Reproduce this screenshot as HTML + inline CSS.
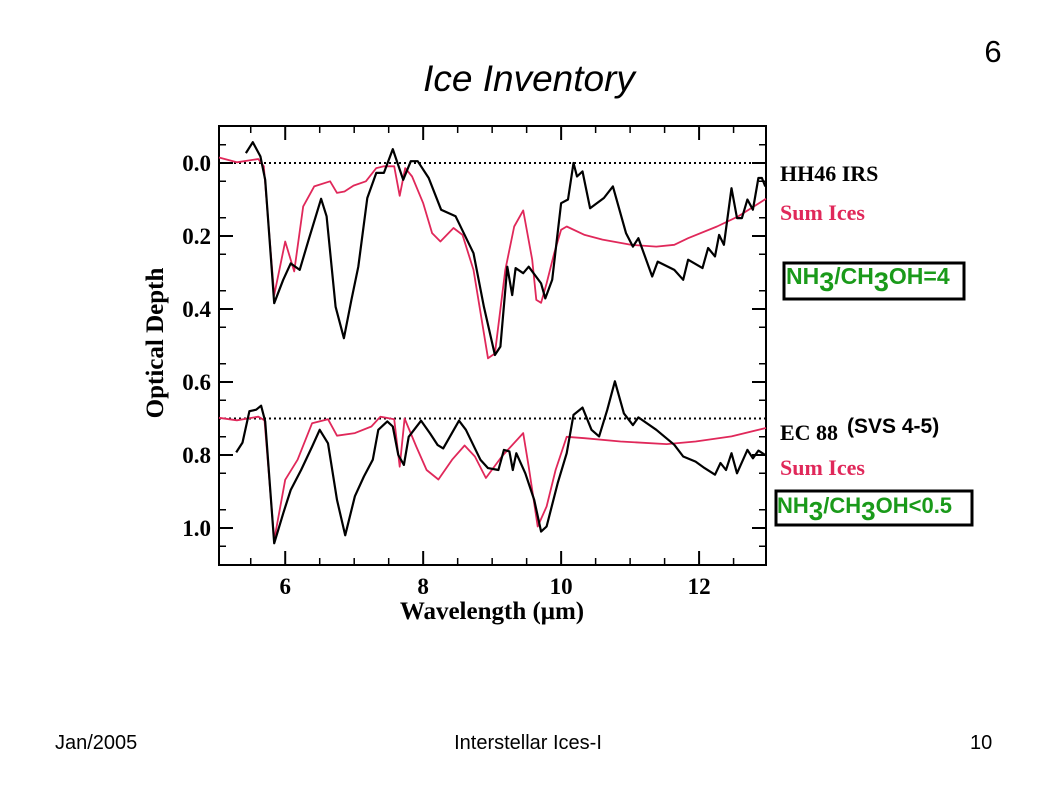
<!DOCTYPE html>
<html><head><meta charset="utf-8"><style>
body{margin:0;background:#fff;}
svg{display:block;}
</style></head><body>
<svg width="1057" height="794" viewBox="0 0 1057 794" xmlns="http://www.w3.org/2000/svg" id="chart">
<text x="529" y="91" font-family="Liberation Sans, sans-serif" font-size="37" font-style="italic" text-anchor="middle">Ice Inventory</text>
<text x="993" y="62" font-family="Liberation Sans, sans-serif" font-size="31" text-anchor="middle">6</text>
<rect x="219" y="126" width="547" height="439" fill="none" stroke="#000" stroke-width="2"/>
<g id="ticks"></g>
<g id="grid"></g>
<g id="series"></g>
<text transform="translate(163,343) rotate(-90)" font-family="Liberation Serif, serif" font-weight="bold" font-size="25" text-anchor="middle">Optical Depth</text>
<text x="492" y="619" font-family="Liberation Serif, serif" font-weight="bold" font-size="25" text-anchor="middle">Wavelength (μm)</text>
<g font-family="Liberation Serif, serif" font-weight="bold" font-size="22">
<text x="780" y="181">HH46 IRS</text>
<text x="780" y="220" fill="#e0285a">Sum Ices</text>
<text x="780" y="440">EC 88</text>
<text x="780" y="475" fill="#e0285a">Sum Ices</text>
</g>
<text x="847" y="433" font-family="Liberation Sans, sans-serif" font-weight="bold" font-size="21">(SVS 4-5)</text>
<rect x="784" y="263" width="180" height="36" fill="#fff" stroke="#000" stroke-width="3"/>
<text x="786" y="284" font-family="Liberation Sans, sans-serif" font-weight="bold" font-size="23" fill="#1a9a1a">NH<tspan dy="7" font-size="27">3</tspan><tspan dy="-7">/CH</tspan><tspan dy="7" font-size="27">3</tspan><tspan dy="-7">OH=4</tspan></text>
<rect x="776" y="491" width="196" height="34" fill="#fff" stroke="#000" stroke-width="3"/>
<text x="777" y="513" font-family="Liberation Sans, sans-serif" font-weight="bold" font-size="22" fill="#1a9a1a">NH<tspan dy="7" font-size="26">3</tspan><tspan dy="-7">/CH</tspan><tspan dy="7" font-size="26">3</tspan><tspan dy="-7">OH&lt;0.5</tspan></text>
<g font-family="Liberation Sans, sans-serif" font-size="20">
<text x="55" y="749">Jan/2005</text>
<text x="528" y="749" text-anchor="middle">Interstellar Ices-I</text>
<text x="970" y="749">10</text>
</g>
</svg>
<script>
const xTicks=[6,8,10,12];
const yTicks=[0.0,0.2,0.4,0.6,0.8,1.0];
const yTickLabels=["0.0","0.2","0.4","0.6","0.8","1.0"];
const baselines=[0.0,0.7];
const hhWl=[5.43,5.53,5.64,5.71,5.84,5.97,6.08,6.21,6.34,6.52,6.60,6.73,6.85,6.96,7.06,7.19,7.32,7.43,7.56,7.71,7.82,7.92,8.08,8.26,8.47,8.73,8.88,9.04,9.12,9.22,9.29,9.34,9.45,9.53,9.71,9.77,9.87,10.0,10.1,10.18,10.23,10.31,10.42,10.62,10.75,10.94,11.04,11.12,11.32,11.40,11.64,11.77,11.84,12.05,12.13,12.23,12.29,12.36,12.47,12.55,12.62,12.70,12.78,12.86,12.91,12.96];
const hhDepth=[-0.027,-0.057,-0.018,0.046,0.384,0.32,0.275,0.293,0.21,0.098,0.146,0.394,0.48,0.375,0.284,0.096,0.027,0.027,-0.038,0.046,-0.005,-0.005,0.041,0.128,0.146,0.247,0.394,0.526,0.503,0.284,0.362,0.288,0.302,0.284,0.33,0.371,0.32,0.11,0.10,0.0,0.037,0.023,0.124,0.096,0.064,0.192,0.229,0.206,0.311,0.27,0.293,0.32,0.265,0.288,0.233,0.256,0.197,0.224,0.069,0.151,0.151,0.10,0.128,0.041,0.041,0.064];
const sumTopWl=[5.04,5.30,5.61,5.69,5.84,6.0,6.13,6.26,6.42,6.65,6.75,6.86,6.99,7.17,7.32,7.43,7.58,7.66,7.74,7.84,8.0,8.13,8.25,8.44,8.57,8.73,8.94,9.04,9.19,9.32,9.45,9.58,9.64,9.71,9.79,9.90,10.0,10.08,10.34,10.60,11.01,11.38,11.64,11.84,12.26,12.57,12.97];
const sumTopDepth=[-0.015,-0.002,-0.011,0.009,0.362,0.215,0.297,0.119,0.064,0.05,0.082,0.078,0.062,0.05,0.014,0.009,0.009,0.09,0.014,0.037,0.11,0.192,0.215,0.178,0.197,0.293,0.535,0.522,0.293,0.174,0.13,0.265,0.375,0.383,0.33,0.247,0.183,0.174,0.197,0.21,0.224,0.229,0.224,0.206,0.174,0.146,0.098];
const ecWl=[5.29,5.38,5.48,5.58,5.65,5.71,5.84,5.97,6.08,6.23,6.39,6.50,6.62,6.75,6.87,7.01,7.14,7.27,7.35,7.48,7.56,7.64,7.72,7.79,7.97,8.10,8.21,8.29,8.52,8.62,8.83,8.94,9.09,9.17,9.25,9.30,9.35,9.48,9.61,9.71,9.79,9.95,10.08,10.18,10.31,10.44,10.55,10.67,10.78,10.91,11.04,11.12,11.38,11.64,11.77,11.95,12.08,12.23,12.31,12.39,12.47,12.55,12.70,12.78,12.86,12.96];
const ecDepth=[0.793,0.766,0.68,0.676,0.665,0.708,1.042,0.96,0.896,0.841,0.777,0.731,0.768,0.923,1.02,0.913,0.859,0.813,0.731,0.708,0.722,0.8,0.827,0.75,0.706,0.741,0.773,0.782,0.706,0.731,0.813,0.836,0.841,0.786,0.79,0.841,0.795,0.85,0.923,1.01,0.996,0.877,0.795,0.69,0.67,0.731,0.749,0.676,0.598,0.686,0.718,0.697,0.731,0.772,0.804,0.818,0.836,0.854,0.822,0.841,0.795,0.85,0.786,0.809,0.788,0.8];
const sumBotWl=[5.04,5.30,5.61,5.70,5.84,6.0,6.18,6.39,6.62,6.75,7.01,7.25,7.38,7.58,7.66,7.73,7.90,8.05,8.22,8.42,8.60,8.75,8.91,9.14,9.45,9.53,9.66,9.79,9.92,10.08,10.34,10.86,11.53,11.95,12.47,12.97];
const sumBotDepth=[0.698,0.705,0.695,0.705,1.033,0.868,0.813,0.713,0.702,0.747,0.74,0.722,0.695,0.702,0.832,0.70,0.777,0.841,0.867,0.813,0.774,0.804,0.863,0.804,0.74,0.832,0.996,0.941,0.841,0.75,0.754,0.763,0.77,0.763,0.749,0.726];

const X0=5.04,X1=12.97,PX0=219,PX1=766;
function xs(v){return PX0+(v-X0)/(X1-X0)*(PX1-PX0);}
function ys(v){return 163+v*365;}
const NS="http://www.w3.org/2000/svg";
function mk(tag,attrs,parent){const e=document.createElementNS(NS,tag);for(const k in attrs)e.setAttribute(k,attrs[k]);parent.appendChild(e);return e;}
const tg=document.getElementById('ticks');
const font='Liberation Serif, serif';
xTicks.forEach(v=>{
  const x=xs(v);
  const l1=mk('line',{x1:x,y1:565,x2:x,y2:551,stroke:'#000','stroke-width':2},tg);
  
  
  const l2=mk('line',{x1:x,y1:126,x2:x,y2:140,stroke:'#000','stroke-width':2},tg);
  
  
  const t=mk('text',{x:x,y:594,'font-family':font,'font-weight':'bold','font-size':23,'text-anchor':'middle'},tg);
  t.textContent=String(v);
  
  
});
for(let v=5.5;v<13;v+=0.5){ if(Number.isInteger(v)&&xTicks.includes(v))continue;
  const x=xs(v);
  const m=mk('line',{x1:x,y1:565,x2:x,y2:558,stroke:'#000','stroke-width':1.5},tg);
  
  
  const m2=mk('line',{x1:x,y1:126,x2:x,y2:133,stroke:'#000','stroke-width':1.5},tg);
  
  
}
yTicks.forEach((v,i)=>{
  const y=ys(v);
  const l=mk('line',{x1:219,y1:y,x2:233,y2:y,stroke:'#000','stroke-width':2},tg);
  
  
  const r=mk('line',{x1:766,y1:y,x2:752,y2:y,stroke:'#000','stroke-width':2},tg);
  
  
  const t=mk('text',{x:211,y:y+8,'font-family':font,'font-weight':'bold','font-size':23,'text-anchor':'end'},tg);
  t.textContent=yTickLabels[i];
  
  
});
for(let v=-0.05;v<1.1;v+=0.1){
  const y=ys(v);
  const m=mk('line',{x1:219,y1:y,x2:226,y2:y,stroke:'#000','stroke-width':1.5},tg);
  
  
  const m2=mk('line',{x1:766,y1:y,x2:759,y2:y,stroke:'#000','stroke-width':1.5},tg);
  
  
}
const gg=document.getElementById('grid');
baselines.forEach(v=>{
  const l=mk('line',{x1:219,y1:ys(v),x2:766,y2:ys(v),stroke:'#000','stroke-width':2,'stroke-dasharray':'2,3'},gg);
  
  
});
const sg=document.getElementById('series');
function line(wl,d,color,name,w){
  const pts=wl.map((v,i)=>xs(v).toFixed(1)+','+ys(d[i]).toFixed(1)).join(' ');
  const p=mk('polyline',{points:pts,fill:'none',stroke:color,'stroke-width':w,'stroke-linejoin':'round'},sg);
  
  
}
line(sumTopWl,sumTopDepth,'#e0285a','sum-ices-top-line',1.8);
line(hhWl,hhDepth,'#000','hh46-irs-line',2.2);
line(sumBotWl,sumBotDepth,'#e0285a','sum-ices-bottom-line',1.8);
line(ecWl,ecDepth,'#000','ec88-line',2.2);
</script>
</body></html>
